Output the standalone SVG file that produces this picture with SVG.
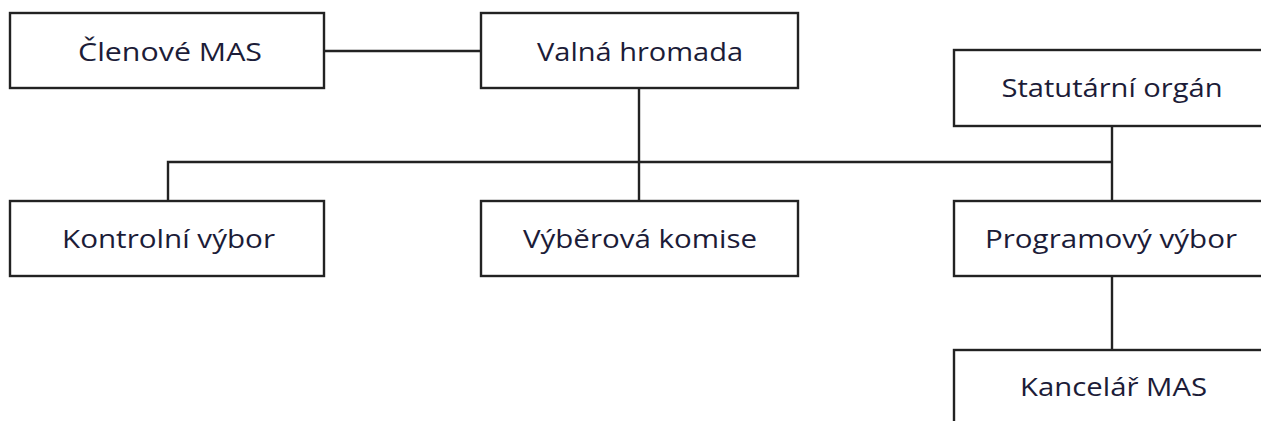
<svg xmlns="http://www.w3.org/2000/svg" width="1261" height="421" viewBox="0 0 1261 421">
<style>
.box{fill:#fff;stroke:#222;stroke-width:2.4}
.lbl{font-family:"Open Sans","Noto Sans",sans-serif;font-size:25.5px;font-weight:500;fill:#1c1c38;text-anchor:middle}
.con{fill:none;stroke:#222;stroke-width:2.4}
</style>
<rect width="1261" height="421" fill="#fff"/>
<g id="connectors">
<path class="con" d="M324,51H481"/>
<path class="con" d="M639,88V201"/>
<path class="con" d="M168,201V162H1112"/>
<path class="con" d="M1112,126V201"/>
<path class="con" d="M1112,276V350"/>
</g>
<g id="clenove"><rect class="box" x="10" y="13" width="314" height="75"/><text class="lbl" x="170" y="61" textLength="184" lengthAdjust="spacingAndGlyphs">Členové MAS</text></g>
<g id="valna"><rect class="box" x="481" y="13" width="317" height="75"/><text class="lbl" x="640" y="61" textLength="206" lengthAdjust="spacingAndGlyphs">Valná hromada</text></g>
<g id="statutarni"><rect class="box" x="954" y="50" width="320" height="76"/><text class="lbl" x="1112" y="97" textLength="221" lengthAdjust="spacingAndGlyphs">Statutární orgán</text></g>
<g id="kontrolni"><rect class="box" x="10" y="201" width="314" height="75"/><text class="lbl" x="168.5" y="248" textLength="213" lengthAdjust="spacingAndGlyphs">Kontrolní výbor</text></g>
<g id="vyberova"><rect class="box" x="481" y="201" width="317" height="75"/><text class="lbl" x="640" y="248" textLength="234" lengthAdjust="spacingAndGlyphs">Výběrová komise</text></g>
<g id="programovy"><rect class="box" x="954" y="201" width="320" height="75"/><text class="lbl" x="1111" y="248" textLength="252" lengthAdjust="spacingAndGlyphs">Programový výbor</text></g>
<g id="kancelar"><rect class="box" x="954" y="350" width="320" height="80"/><text class="lbl" x="1113.5" y="396" textLength="187" lengthAdjust="spacingAndGlyphs">Kancelář MAS</text></g>
</svg>
